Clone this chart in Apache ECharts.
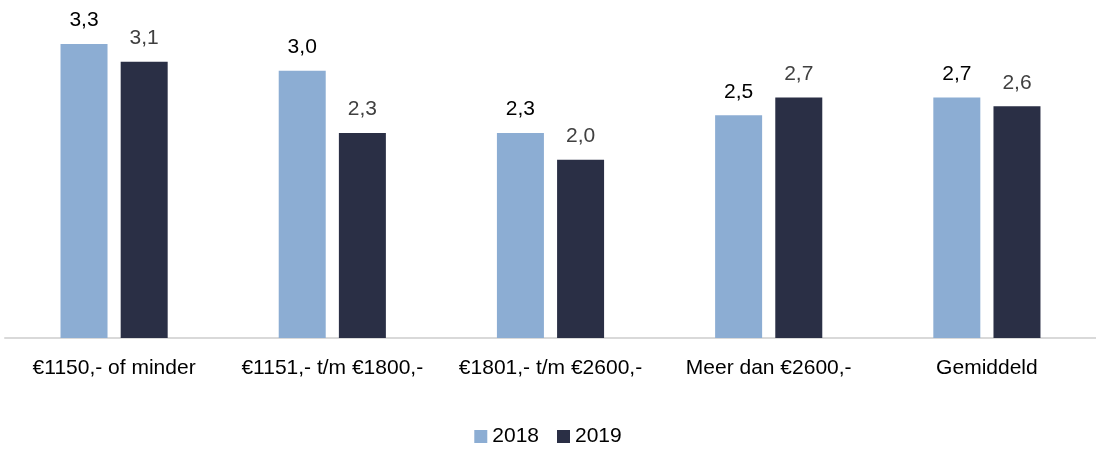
<!DOCTYPE html>
<html>
<head>
<meta charset="utf-8">
<script src="https://cdn.jsdelivr.net/npm/echarts@6/dist/echarts.min.js"></script>
<style>
  html, body { margin: 0; padding: 0; background: #fff; }
  #chart { width: 1096px; height: 452px; }
</style>
</head>
<body>
<div id="chart"></div>
<script>
let categories = ['€1150,- of minder', '€1151,- t/m €1800,-', '€1801,- t/m €2600,-', 'Meer dan €2600,-', 'Gemiddeld'];
let values2018 = [3.3, 3.0, 2.3, 2.5, 2.7];
let values2019 = [3.1, 2.3, 2.0, 2.7, 2.6];
let seriesNames = ['2018', '2019'];

function fmt(p) {
    return p.value.toFixed(1).replace('.', ',');
}

let chart = echarts.init(document.getElementById('chart'));
let option = {
    animation: false,
    textStyle: {
        fontFamily: 'Liberation Sans'
    },
    grid: {
        left: 5,
        top: 44,
        width: 1099,
        bottom: 114
    },
    legend: {
        data: seriesNames,
        bottom: 0,
        left: 'center',
        icon: 'rect',
        itemWidth: 13,
        itemHeight: 13,
        itemGap: 18,
        textStyle: {
            fontSize: 21,
            color: '#000'
        }
    },
    xAxis: {
        type: 'category',
        data: categories,
        axisLine: {
            lineStyle: { color: '#d9d9d9', width: 2 }
        },
        axisTick: { show: false },
        axisLabel: {
            interval: 0,
            margin: 20,
            fontSize: 21,
            color: '#000'
        }
    },
    yAxis: {
        type: 'value',
        min: 0,
        max: 3.3,
        show: false,
        splitLine: { show: false }
    },
    series: [{
        name: seriesNames[0],
        type: 'bar',
        data: values2018,
        barWidth: 47,
        barGap: '28%',
        itemStyle: { color: '#8cadd3' },
        label: {
            show: true,
            position: 'top',
            distance: 13,
            fontSize: 21,
            color: '#000',
            formatter: fmt
        }
    }, {
        name: seriesNames[1],
        type: 'bar',
        data: values2019,
        barWidth: 47,
        itemStyle: { color: '#2a2f45' },
        label: {
            show: true,
            position: 'top',
            distance: 13,
            fontSize: 21,
            color: '#404040',
            formatter: fmt
        }
    }]
};
chart.setOption(option);
</script>
</body>
</html>
